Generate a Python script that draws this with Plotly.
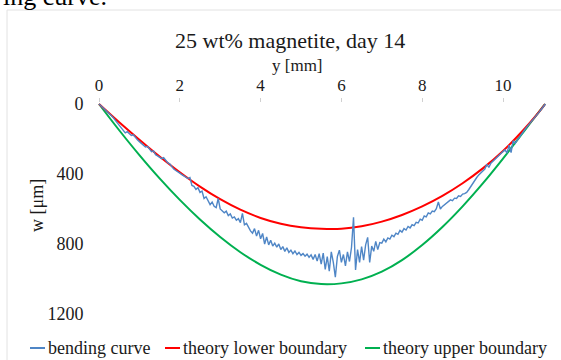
import numpy as np
import plotly.graph_objects as go

# ---- data -------------------------------------------------------------
# measured bending curve, sampled every 0.05 mm along y
step_mm = 0.05
w_bending = [
    0, 10, 20, 30, 42, 52, 65, 78, 92, 108, 122, 138, 150, 165, 158, 172, 180, 176, 192, 205,
    215, 224, 232, 246, 242, 258, 272, 268, 290, 296, 305, 312, 306, 325, 336, 342, 360, 372, 380, 386,
    395, 404, 412, 416, 426, 420, 465, 470, 488, 478, 505, 498, 540, 530, 556, 575, 560, 585, 592, 540,
    600, 610, 622, 612, 638, 628, 652, 645, 664, 655, 678, 625, 690, 682, 708, 725, 738, 712, 755, 722,
    770, 740, 800, 760, 805, 778, 812, 795, 818, 800, 832, 815, 842, 822, 848, 835, 855, 840, 860, 848,
    865, 855, 870, 858, 876, 862, 888, 860, 898, 855, 915, 852, 945, 872, 955, 845, 905, 990, 872, 835,
    905, 860, 925, 845, 900, 820, 648, 948, 832, 905, 815, 892, 805, 762, 905, 812, 842, 785, 832, 792,
    795, 772, 788, 765, 772, 750, 758, 738, 745, 722, 732, 712, 720, 700, 708, 690, 695, 676, 680, 658,
    664, 640, 645, 622, 628, 612, 615, 598, 560, 600, 585, 575, 568, 560, 548, 552, 538, 540, 525, 528,
    515, 512, 505, 490, 472, 455, 432, 420, 405, 395, 385, 372, 345, 362, 338, 326, 314, 303, 292, 283,
    272, 262, 280, 235, 278, 210, 225, 208, 190, 172, 158, 143, 128, 115, 100, 88, 75, 60, 45, 30,
    15, 0,
]
y_bending = np.round(np.arange(len(w_bending)) * step_mm, 2)

# theoretical boundaries
y_theory = [0, 0.5, 1.0, 1.5, 2.0, 2.5, 3.0, 3.5, 4.0, 4.5, 5.0, 5.5,
            6.0, 6.5, 7.0, 7.5, 8.0, 8.5, 9.0, 9.5, 10.0, 10.5, 11.0, 11.04]
w_lower = [0, 104, 204, 300, 390, 472, 544, 604, 651, 684, 704, 713,
           713, 699, 672, 634, 585, 525, 453, 368, 268, 150, 14, 0]
w_upper = [0, 150, 292, 425, 548, 660, 760, 847, 919, 975, 1013, 1029,
           1025, 1002, 958, 892, 806, 703, 585, 454, 312, 162, 12, 0]

x_ticks = [0, 2, 4, 6, 8, 10]
w_ticks = [0, 400, 800, 1200]

series_names = ["bending curve", "theory lower boundary", "theory upper boundary"]
series_colors = ["#4F86C6", "#FF0000", "#00B050"]

# ---- layout geometry (pixels) ----------------------------------------
FIG_W, FIG_H = 561, 360
L, R, T, B = 91, 8, 103, 35
PW, PH = FIG_W - L - R, FIG_H - T - B
X0_PX, PX_PER_MM = 99, 40.4      # where y = 0 mm sits, and the x scale
W0_PX, PX_PER_UM = 104, 0.175    # where w = 0 um sits, and the w scale
FONT = "Liberation Serif"
TEXT = "#1a1a1a"


def px(xp):
    return (xp - L) / PW


def py(yp):
    return (FIG_H - B - yp) / PH


fig = go.Figure()
fig.add_trace(go.Scatter(x=y_theory, y=w_upper, mode="lines", line_shape="spline",
                         line=dict(color=series_colors[2], width=2), name=series_names[2]))
fig.add_trace(go.Scatter(x=y_theory, y=w_lower, mode="lines", line_shape="spline",
                         line=dict(color=series_colors[1], width=2), name=series_names[1]))
fig.add_trace(go.Scatter(x=y_bending, y=w_bending, mode="lines",
                         line=dict(color=series_colors[0], width=1.4), name=series_names[0]))

annotations = [
    dict(text="ing curve.", x=px(1), y=py(13), xanchor="left", yanchor="bottom",
         font=dict(size=26, color="black", family=FONT)),
    dict(text="25 wt% magnetite, day 14", x=px(290), y=py(41), xanchor="center", yanchor="middle",
         font=dict(size=22, color=TEXT, family=FONT)),
    dict(text="y [mm]", x=px(297), y=py(65), xanchor="center", yanchor="middle",
         font=dict(size=17, color=TEXT, family=FONT)),
    dict(text="w [μm]", x=px(37), y=py(206), xanchor="center", yanchor="middle", textangle=-90,
         font=dict(size=18, color=TEXT, family=FONT)),
]

# legend drawn along the bottom edge
legend_y = 348
legend_items = [(30, series_names[0], series_colors[0]),
                (165, series_names[1], series_colors[1]),
                (365, series_names[2], series_colors[2])]
shapes = [dict(type="rect", xref="paper", yref="paper", x0=px(7), x1=px(566), y0=py(366), y1=py(10),
               line=dict(color="#e2e2e2", width=1), layer="below")]
for x0, name, col in legend_items:
    shapes.append(dict(type="line", xref="paper", yref="paper", x0=px(x0), x1=px(x0 + 15),
                       y0=py(legend_y), y1=py(legend_y), line=dict(color=col, width=2)))
    annotations.append(dict(text=name, x=px(x0 + 16), y=py(legend_y), xanchor="left", yanchor="middle",
                            font=dict(size=18, color=TEXT, family=FONT)))

for a in annotations:
    a.update(xref="paper", yref="paper", showarrow=False)

fig.update_layout(
    width=FIG_W, height=FIG_H,
    margin=dict(l=L, r=R, t=T, b=B),
    paper_bgcolor="white", plot_bgcolor="white",
    showlegend=False,
    annotations=annotations, shapes=shapes,
    xaxis=dict(side="top",
               range=[(L - X0_PX) / PX_PER_MM, (L + PW - X0_PX) / PX_PER_MM],
               tickvals=x_ticks, ticks="outside", ticklen=4, tickcolor="#d0d0d0",
               showgrid=False, zeroline=False, showline=False,
               tickfont=dict(size=17, color=TEXT, family=FONT)),
    yaxis=dict(range=[(FIG_H - B - W0_PX) / PX_PER_UM, (T - W0_PX) / PX_PER_UM],
               tickvals=w_ticks, ticks="outside", ticklen=3, tickcolor="rgba(0,0,0,0)",
               showgrid=False, zeroline=False, showline=False,
               tickfont=dict(size=18, color=TEXT, family=FONT)),
)

fig.write_html("out.html", config=dict(displayModeBar=False))
